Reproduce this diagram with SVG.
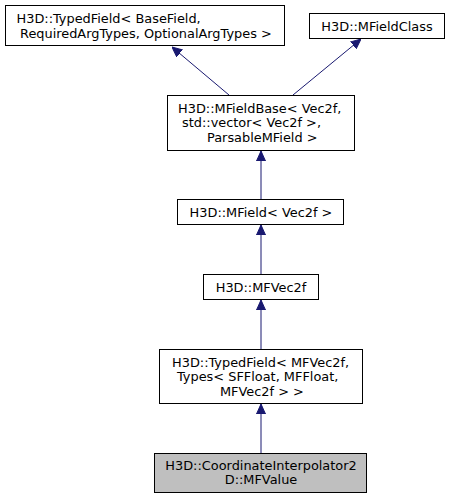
<svg xmlns="http://www.w3.org/2000/svg" width="450" height="499" viewBox="0 0 450 499">
<defs>
<style>
.box{fill:#ffffff;stroke:#000000;stroke-width:1}
.cur{fill:#bfbfbf;stroke:#000000;stroke-width:1}
text{font-family:"DejaVu Sans","Liberation Sans",sans-serif;font-size:12.9px;text-anchor:middle;fill:#000000}
text.l{text-anchor:start}
.edge{stroke:#191970;stroke-width:1;fill:none}
.ah{fill:#191970;stroke:#191970}
</style>
<marker id="arr" viewBox="0 0 10 10" refX="10" refY="5" markerWidth="10" markerHeight="10" markerUnits="userSpaceOnUse" orient="auto">
<path d="M0,0.5 L10,5 L0,9.5 Z" class="ah"/>
</marker>
</defs>
<rect width="450" height="499" fill="#ffffff"/>
<g id="edges">
<line class="edge" x1="229" y1="95" x2="172" y2="47" marker-end="url(#arr)"/>
<line class="edge" x1="293" y1="95" x2="361" y2="39" marker-end="url(#arr)"/>
<line class="edge" x1="261" y1="199" x2="261" y2="151" marker-end="url(#arr)"/>
<line class="edge" x1="261" y1="274" x2="261" y2="225" marker-end="url(#arr)"/>
<line class="edge" x1="261" y1="349" x2="261" y2="300" marker-end="url(#arr)"/>
<line class="edge" x1="261" y1="453" x2="261" y2="404" marker-end="url(#arr)"/>
</g>
<g id="node1">
<rect class="box" x="5.5" y="5.5" width="279" height="40"/>
<text class="l" x="16.5" y="23">H3D::TypedField&lt; BaseField,</text>
<text class="l" x="20" y="37.5">RequiredArgTypes, OptionalArgTypes &gt;</text>
</g>
<g id="node2">
<rect class="box" x="309.5" y="13.5" width="135" height="25"/>
<text x="377" y="30.5">H3D::MFieldClass</text>
</g>
<g id="node3">
<rect class="box" x="167.5" y="95.5" width="187" height="55"/>
<text class="l" x="178" y="112.5">H3D::MFieldBase&lt; Vec2f,</text>
<text class="l" x="182" y="127">std::vector&lt; Vec2f &gt;,</text>
<text class="l" x="207" y="141.5">ParsableMField &gt;</text>
</g>
<g id="node4">
<rect class="box" x="177.5" y="199.5" width="166" height="25"/>
<text x="261" y="216.5">H3D::MField&lt; Vec2f &gt;</text>
</g>
<g id="node5">
<rect class="box" x="203.5" y="274.5" width="115" height="25"/>
<text x="261" y="291.5">H3D::MFVec2f</text>
</g>
<g id="node6">
<rect class="box" x="159.5" y="349.5" width="203" height="54"/>
<text class="l" x="172" y="366.5">H3D::TypedField&lt; MFVec2f,</text>
<text class="l" x="177" y="381">Types&lt; SFFloat, MFFloat,</text>
<text class="l" x="220" y="395.5">MFVec2f &gt; &gt;</text>
</g>
<g id="node7">
<rect class="cur" x="154.5" y="453.5" width="212" height="39"/>
<text x="261" y="469.5">H3D::CoordinateInterpolator2</text>
<text x="261" y="484">D::MFValue</text>
</g>
</svg>
